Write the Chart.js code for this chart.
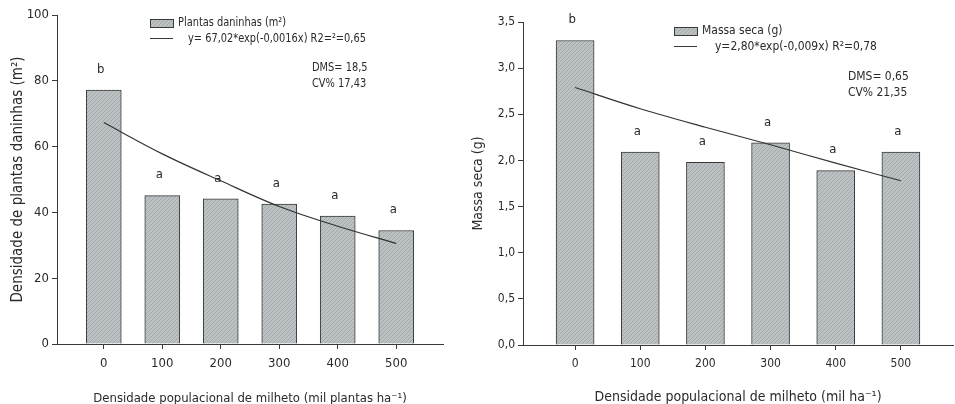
<!DOCTYPE html>
<html>
<head>
<meta charset="utf-8">
<script src="https://cdn.jsdelivr.net/npm/chart.js@4"></script>
<style>
body { margin: 0; background: #fff; width: 955px; height: 404px; position: relative; overflow: hidden; }
.painel { position: absolute; top: 0; height: 404px; }
</style>
</head>
<body>
<div class="painel" style="left:0;width:478px"><canvas id="graficoPlantas" width="478" height="404"></canvas></div>
<div class="painel" style="left:462px;width:493px"><canvas id="graficoMassa" width="493" height="404"></canvas></div>
<script>
// dados
const densidades = [0, 100, 200, 300, 400, 500]
const plantasDaninhas = [77.2, 45.1, 44.1, 42.5, 38.9, 34.5]
const ajustePlantas = [67.3, 57.8, 49.6, 41.8, 35.8, 30.6]
const letrasPlantas = ['b', 'a', 'a', 'a', 'a', 'a']
const ticksPlantas = [0, 20, 40, 60, 80, 100]

const massaSeca = [3.30, 2.09, 1.98, 2.19, 1.89, 2.09]
const ajusteMassa = [2.79, 2.56, 2.36, 2.17, 1.97, 1.78]
const letrasMassa = ['b', 'a', 'a', 'a', 'a', 'a']
const ticksMassa = [0, 0.5, 1, 1.5, 2, 2.5, 3, 3.5]

const COR_TEXTO = '#2a2a2a'
const COR_EIXO = '#3a3a3a'
const NARROW = "'Liberation Sans Narrow', 'DejaVu Sans Condensed', sans-serif"
const CONDENSED = "'DejaVu Sans Condensed', 'DejaVu Sans', sans-serif"

const hachura = (() => {
	const c = document.createElement('canvas')
	c.width = 4; c.height = 4
	const g = c.getContext('2d')
	g.fillStyle = '#bcc1c3'
	g.fillRect(0, 0, 4, 4)
	g.strokeStyle = '#a3a8aa'
	g.lineWidth = 1
	g.beginPath(); g.moveTo(0, 4); g.lineTo(4, 0); g.stroke()
	return g.createPattern(c, 'repeat')
})()

const pares = (xs, ys) => xs.map((x, i) => ({ x: x, y: ys[i] }))

// texto com compressao horizontal (fonte da figura e mais estreita)
const textoEstreito = (ctx, txt, x, y, esc) => {
	ctx.save()
	ctx.translate(x, y)
	ctx.scale(esc, 1)
	ctx.fillText(txt, 0, 0)
	ctx.restore()
}

// letras, legenda e textos DMS/CV desenhados por cima
const extras = (cfg) => ({
	id: 'extras',
	afterDraw(chart) {
		const ctx = chart.ctx
		const barras = chart.getDatasetMeta(0).data
		ctx.save()
		ctx.fillStyle = COR_TEXTO
		ctx.font = cfg.fonteLetra
		ctx.textAlign = 'center'
		ctx.textBaseline = 'bottom'
		barras.forEach((b, i) => ctx.fillText(cfg.letras[i], b.x - 3, b.y - 14))

		const L = cfg.legenda
		ctx.fillStyle = hachura
		ctx.fillRect(L.x, L.y, 23, 8)
		ctx.strokeStyle = COR_EIXO
		ctx.lineWidth = 1
		ctx.strokeRect(L.x + 0.5, L.y + 0.5, 23, 8)
		ctx.beginPath()
		ctx.moveTo(L.x, L.y + 19.5)
		ctx.lineTo(L.x + 23, L.y + 19.5)
		ctx.stroke()
		ctx.fillStyle = COR_TEXTO
		ctx.font = cfg.fonteLegenda
		ctx.textAlign = 'left'
		ctx.textBaseline = 'middle'
		const e = cfg.escalaTexto
		textoEstreito(ctx, cfg.rotuloBarra, L.x + 28, L.y + 4, e)
		textoEstreito(ctx, cfg.rotuloLinha, L.x + cfg.recuoLinha, L.y + 20, e)

		const D = cfg.dms
		textoEstreito(ctx, cfg.textoDms, D.x, D.y, e)
		textoEstreito(ctx, cfg.textoCv, D.x, D.y + 16, e)
		ctx.restore()
	}
})

const criarGrafico = (id, opc) => new Chart(document.getElementById(id), {
	data: {
		datasets: [
			{
				type: 'bar',
				data: pares(densidades, opc.barras),
				backgroundColor: hachura,
				borderColor: COR_EIXO,
				borderWidth: 1,
				barThickness: opc.larguraBarra,
				order: 2
			},
			{
				type: 'line',
				data: pares(densidades, opc.ajuste),
				borderColor: '#333',
				borderWidth: 1.2,
				pointRadius: 0,
				tension: 0.35,
				fill: false,
				order: 1
			}
		]
	},
	options: {
		responsive: false,
		animation: false,
		layout: { padding: opc.padding },
		plugins: { legend: { display: false }, tooltip: { enabled: false } },
		scales: {
			x: {
				type: 'linear',
				min: -80,
				max: 580,
				offset: false,
				afterBuildTicks: s => { s.ticks = densidades.map(v => ({ value: v })) },
				afterFit: s => { s.height = opc.alturaX },
				grid: { drawOnChartArea: false, offset: false, tickLength: 5, color: COR_EIXO },
				border: { color: COR_EIXO },
				ticks: { font: opc.fonteTick, color: COR_TEXTO, padding: 7, maxRotation: 0 },
				title: { display: true, text: opc.tituloX, font: opc.fonteTituloX, color: COR_TEXTO, padding: { top: 0, bottom: -2 } }
			},
			y: {
				min: opc.ticksY[0],
				max: opc.ticksY[opc.ticksY.length - 1],
				afterBuildTicks: s => { s.ticks = opc.ticksY.map(v => ({ value: v })) },
				afterFit: s => { s.width = opc.larguraY },
				grid: { drawOnChartArea: false, tickLength: 5, color: COR_EIXO },
				border: { color: COR_EIXO },
				ticks: { font: opc.fonteTick, color: COR_TEXTO, padding: 3, callback: opc.formatoY },
				title: { display: true, text: opc.tituloY, font: opc.fonteTituloY, color: COR_TEXTO, padding: { top: opc.recuoTituloY, bottom: 0 } }
			}
		}
	},
	plugins: [extras(opc)]
})

criarGrafico('graficoPlantas', {
	barras: plantasDaninhas,
	ajuste: ajustePlantas,
	letras: letrasPlantas,
	ticksY: ticksPlantas,
	formatoY: v => String(v),
	larguraBarra: 35,
	padding: { top: 15, right: 35, left: 0, bottom: 0 },
	alturaX: 60,
	larguraY: 57,
	recuoTituloY: 9,
	fonteTick: { family: NARROW, size: 13 },
	fonteTituloX: { family: CONDENSED, size: 13 },
	fonteTituloY: { family: CONDENSED, size: 15 },
	fonteLetra: '13px ' + CONDENSED,
	fonteLegenda: '13px ' + NARROW,
	escalaTexto: 0.84,
	tituloX: 'Densidade populacional de milheto (mil plantas ha⁻¹)',
	tituloY: 'Densidade de plantas daninhas (m²)',
	legenda: { x: 150, y: 19 },
	recuoLinha: 38,
	rotuloBarra: 'Plantas daninhas (m²)',
	rotuloLinha: 'y= 67,02*exp(-0,0016x) R2=²=0,65',
	dms: { x: 312, y: 68 },
	textoDms: 'DMS= 18,5',
	textoCv: 'CV% 17,43'
})

criarGrafico('graficoMassa', {
	barras: massaSeca,
	ajuste: ajusteMassa,
	letras: letrasMassa,
	ticksY: ticksMassa,
	formatoY: v => v.toFixed(1).replace('.', ','),
	larguraBarra: 38,
	padding: { top: 22, right: 2, left: 0, bottom: 0 },
	alturaX: 59,
	larguraY: 61,
	recuoTituloY: 8,
	fonteTick: { family: CONDENSED, size: 12 },
	fonteTituloX: { family: CONDENSED, size: 14 },
	fonteTituloY: { family: CONDENSED, size: 14 },
	fonteLetra: '13px ' + CONDENSED,
	fonteLegenda: '13px ' + CONDENSED,
	escalaTexto: 0.92,
	tituloX: 'Densidade populacional de milheto (mil ha⁻¹)',
	tituloY: 'Massa seca (g)',
	legenda: { x: 212, y: 27 },
	recuoLinha: 41,
	rotuloBarra: 'Massa seca (g)',
	rotuloLinha: 'y=2,80*exp(-0,009x) R²=0,78',
	dms: { x: 386, y: 77 },
	textoDms: 'DMS= 0,65',
	textoCv: 'CV% 21,35'
})
</script>
</body>
</html>
